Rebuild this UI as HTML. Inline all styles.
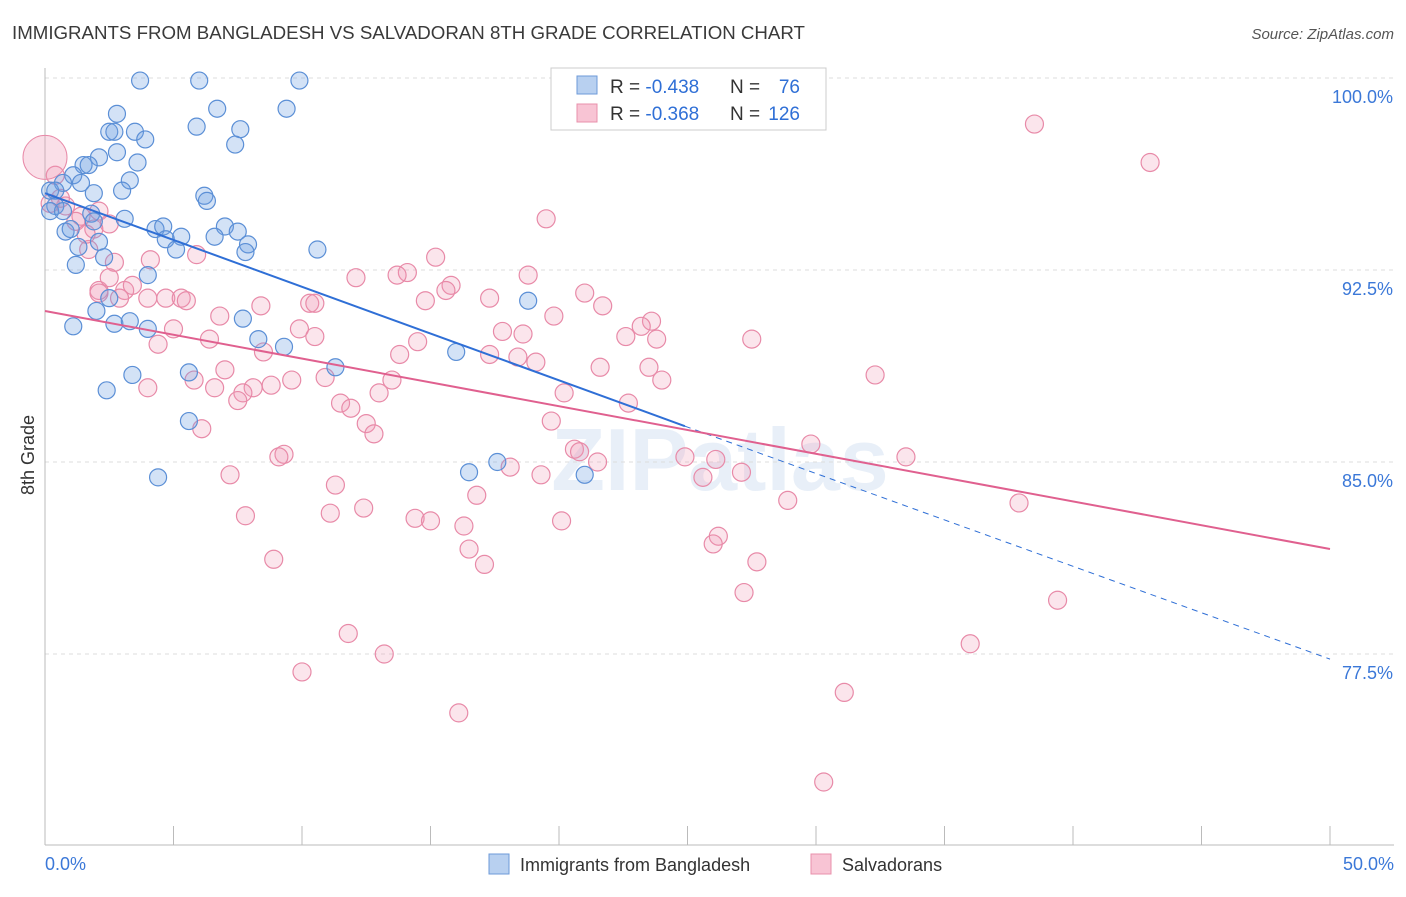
<!DOCTYPE html>
<html><head><meta charset="utf-8"><style>
body{margin:0;background:#fff;font-family:"Liberation Sans",sans-serif}
</style></head><body>
<svg id="chart" width="1406" height="892" xmlns="http://www.w3.org/2000/svg" font-family="Liberation Sans, sans-serif">
<text x="12" y="39" font-size="18.7" fill="#3a3a3a">IMMIGRANTS FROM BANGLADESH VS SALVADORAN 8TH GRADE CORRELATION CHART</text>
<text x="1394" y="39" font-size="15" fill="#555" font-style="italic" text-anchor="end">Source: ZipAtlas.com</text>
<text x="720" y="490" font-size="88" fill="#c8d8ee" opacity="0.4" text-anchor="middle" font-weight="bold">ZIPatlas</text>
<text transform="translate(34,455) rotate(-90)" font-size="18" fill="#333" text-anchor="middle">8th Grade</text>
<g id="grid"></g><g id="axes"></g><g id="pts"></g><g id="lines"></g>
<g>
<rect x="551" y="68" width="275" height="62" fill="#fff" stroke="#ccc"/>
<rect x="577" y="76" width="20" height="18" fill="#b8d0f0" stroke="#6d9ad8"/>
<rect x="577" y="104" width="20" height="18" fill="#f8c4d4" stroke="#e890ab"/>
<text x="610" y="93" font-size="19" fill="#333">R = <tspan fill="#2f6fd6">-0.438</tspan></text>
<text x="730" y="93" font-size="19" fill="#333">N =</text>
<text x="800" y="93" font-size="19" fill="#2f6fd6" text-anchor="end">76</text>
<text x="610" y="120" font-size="19" fill="#333">R = <tspan fill="#2f6fd6">-0.368</tspan></text>
<text x="730" y="120" font-size="19" fill="#333">N =</text>
<text x="800" y="120" font-size="19" fill="#2f6fd6" text-anchor="end">126</text>
</g>
<g>
<rect x="489" y="854" width="20" height="20" fill="#b8d0f0" stroke="#6d9ad8"/>
<text x="520" y="871" font-size="18" fill="#333">Immigrants from Bangladesh</text>
<rect x="811" y="854" width="20" height="20" fill="#f8c4d4" stroke="#e890ab"/>
<text x="842" y="871" font-size="18" fill="#333">Salvadorans</text>
</g>
</svg>
<script>
const blueX=[3.7,6.0,9.9,2.8,6.7,9.4,2.5,2.7,3.5,5.9,7.6,3.9,7.4,2.8,2.1,1.5,1.7,3.6,3.3,1.1,0.7,1.4,0.2,0.4,1.9,3.0,6.2,6.3,0.4,0.2,0.7,1.8,1.9,3.1,4.3,4.6,7.0,7.5,0.8,1.0,1.3,2.1,4.7,5.3,6.6,7.9,7.8,5.1,10.6,2.3,1.2,4.0,2.5,18.8,2.0,1.1,2.7,3.3,4.0,7.7,8.3,9.3,16.0,11.3,5.6,3.4,2.4,5.6,4.4,16.5,17.6,21.0];
const blueY=[99.9,99.9,99.9,98.6,98.8,98.8,97.9,97.9,97.9,98.1,98.0,97.6,97.4,97.1,96.9,96.6,96.6,96.7,96.0,96.2,95.9,95.9,95.6,95.6,95.5,95.6,95.4,95.2,95.0,94.8,94.8,94.7,94.4,94.5,94.1,94.2,94.2,94.0,94.0,94.1,93.4,93.6,93.7,93.8,93.8,93.5,93.2,93.3,93.3,93.0,92.7,92.3,91.4,91.3,90.9,90.3,90.4,90.5,90.2,90.6,89.8,89.5,89.3,88.7,88.5,88.4,87.8,86.6,84.4,84.6,85.0,84.5];
const pinkX=[38.5,43.0,19.5,2.1,1.4,1.2,0.8,2.5,1.7,2.7,4.1,5.9,15.2,14.1,12.1,13.7,15.8,15.6,18.8,21.0,17.3,14.8,21.7,2.1,2.5,3.1,3.4,4.7,5.3,5.5,4.0,2.9,8.4,10.3,10.5,19.8,23.6,23.2,9.9,6.8,5.0,6.4,17.8,18.6,22.6,23.8,27.5,10.5,4.4,8.5,14.5,13.8,17.3,18.4,19.1,21.6,23.5,32.3,7.0,24.0,5.8,9.6,10.9,13.5,8.8,8.1,4.0,6.6,7.7,7.5,13.0,20.2,22.7,11.5,11.9,12.5,12.8,19.7,6.1,20.6,20.8,9.3,9.1,21.5,24.9,26.1,29.8,33.5,27.1,25.6,7.2,19.3,18.1,11.3,16.8,28.9,37.9,12.4,11.1,7.8,14.4,15.0,20.1,16.3,26.2,26.0,16.5,8.9,17.1,27.7,27.2,39.4,11.8,13.2,36.0,10.0,31.1,16.1,30.3,2.1,0.4,0.6,0.2,1.9,1.6];
const pinkY=[98.2,96.7,94.5,94.8,94.6,94.4,95.0,94.3,93.3,92.8,92.9,93.1,93.0,92.4,92.2,92.3,91.9,91.7,92.3,91.6,91.4,91.3,91.1,91.7,92.2,91.7,91.9,91.4,91.4,91.3,91.4,91.4,91.1,91.2,91.2,90.7,90.5,90.3,90.2,90.7,90.2,89.8,90.1,90.0,89.9,89.8,89.8,89.9,89.6,89.3,89.7,89.2,89.2,89.1,88.9,88.7,88.7,88.4,88.6,88.2,88.2,88.2,88.3,88.2,88.0,87.9,87.9,87.9,87.7,87.4,87.7,87.7,87.3,87.3,87.1,86.5,86.1,86.6,86.3,85.5,85.4,85.3,85.2,85.0,85.2,85.1,85.7,85.2,84.6,84.4,84.5,84.5,84.8,84.1,83.7,83.5,83.4,83.2,83.0,82.9,82.8,82.7,82.7,82.5,82.1,81.8,81.6,81.2,81.0,81.1,79.9,79.6,78.3,77.5,77.9,76.8,76.0,75.2,72.5,91.6,96.2,95.3,95.1,94.1,93.9];
const yTicks=[100,92.5,85,77.5];
const yTickLabels=["100.0%","92.5%","85.0%","77.5%"];
const blueTrend=[95.5,86.4,77.3]; // y at x=0, 24.9, 50
const pinkTrend=[90.9,81.6]; // y at x=0, 50
const NS="http://www.w3.org/2000/svg";
const X=v=>45+v*25.7, Y=v=>78+(100-v)*25.6;
function mk(tag,attrs,parent){const e=document.createElementNS(NS,tag);for(const k in attrs)e.setAttribute(k,attrs[k]);document.getElementById(parent).appendChild(e);return e;}
yTicks.forEach((t,i)=>{
 const l=mk('line',{x1:45,x2:1394,y1:Y(t),y2:Y(t),stroke:'#ddd','stroke-dasharray':'4,4'},'grid');
 
 
 const tx=mk('text',{x:1393,y:Y(t)+25,'font-size':18,fill:'#3b78d8','text-anchor':'end'},'grid');
 tx.textContent=yTickLabels[i];
 
 
});
const ax=mk('line',{x1:45,x2:1394,y1:845,y2:845,stroke:'#bbb'},'axes');


const ay=mk('line',{x1:45,x2:45,y1:68,y2:845,stroke:'#bbb'},'axes');


for(let i=0;i<=10;i++){const t=mk('line',{x1:X(i*5),x2:X(i*5),y1:826,y2:845,stroke:'#bbb'},'axes');
 
 }
[[0,"0.0%","start",45],[50,"50.0%","end",1394]].forEach(a=>{const t=mk('text',{x:a[3],y:870,'font-size':18,fill:'#3b78d8','text-anchor':a[2]},'axes');t.textContent=a[1];
 
 });
pinkX.forEach((x,i)=>{const c=mk('circle',{cx:X(x),cy:Y(pinkY[i]),r:9,fill:'rgba(240,150,180,0.25)',stroke:'#e88aa8','stroke-width':1.2},'pts');
 
 });
const big=mk('circle',{cx:X(0),cy:Y(96.9),r:22,fill:'rgba(240,150,180,0.3)',stroke:'#e88aa8'},'pts');


blueX.forEach((x,i)=>{const c=mk('circle',{cx:X(x),cy:Y(blueY[i]),r:8.5,fill:'rgba(110,160,225,0.3)',stroke:'#5b8fd6','stroke-width':1.2},'pts');
 
 });
const b1=mk('line',{x1:X(0),y1:Y(blueTrend[0]),x2:X(24.9),y2:Y(blueTrend[1]),stroke:'#2f6fd6','stroke-width':2},'lines');


const b2=mk('line',{x1:X(24.9),y1:Y(blueTrend[1]),x2:X(50),y2:Y(blueTrend[2]),stroke:'#2f6fd6','stroke-width':1,'stroke-dasharray':'6,5'},'lines');


const p1=mk('line',{x1:X(0),y1:Y(pinkTrend[0]),x2:X(50),y2:Y(pinkTrend[1]),stroke:'#e0608f','stroke-width':2},'lines');


</script>
</body></html>
